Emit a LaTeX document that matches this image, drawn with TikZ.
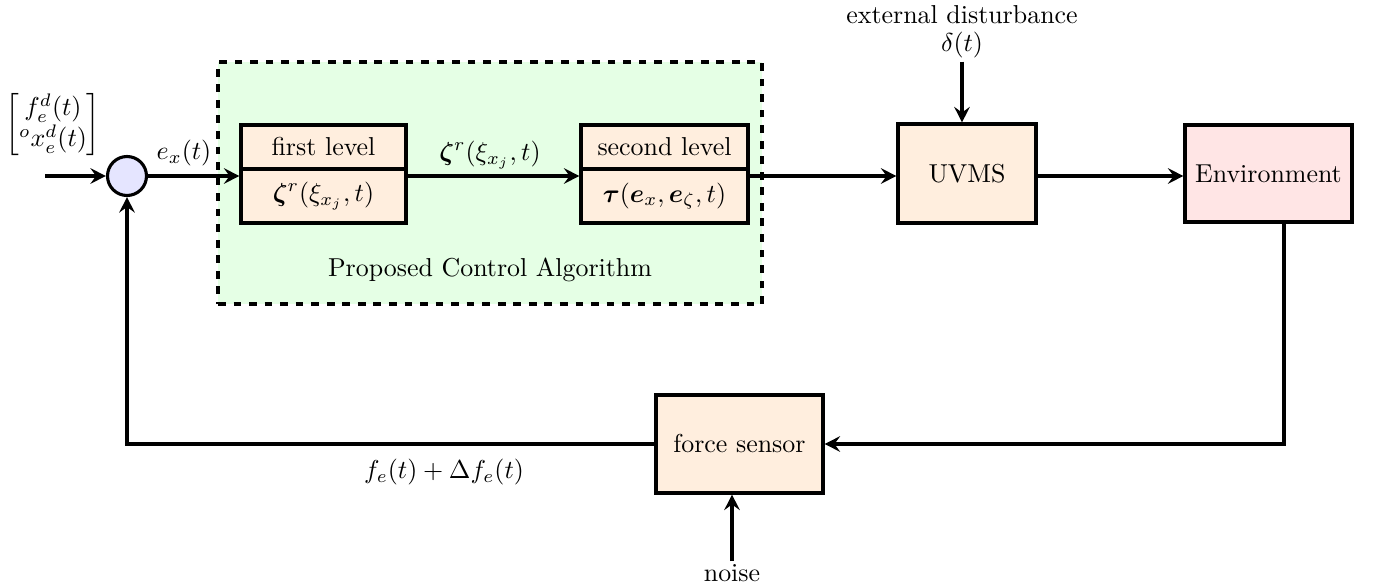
\documentclass[tikz,border=0pt]{standalone}
\usepackage{amsmath,bm}
\usetikzlibrary{calc,arrows.meta}
\begin{document}
\begin{tikzpicture}[x=0.386pt,y=-0.386pt,
  conn/.style={line width=1.2pt},
  arr/.style={conn,-{Stealth[length=6pt,width=6pt,inset=2.2pt]}},
  blk/.style={draw,line width=1.2pt,fill=orange!13,inner sep=0pt,align=center},
  lbl/.style={inner sep=1pt,align=center}]
\useasboundingbox (0,0) rectangle (1373,588);
% control algorithm region
\node[draw,dashed,line width=1.2pt,fill=green!10,minimum width={544*0.386pt},minimum height={242*0.386pt},inner sep=0pt] (ctrl) at (490,183) {};
\node[lbl] (pcalab) at (490,270) {Proposed Control Algorithm};
% summing junction
\node[draw,circle,line width=1.2pt,fill=blue!10,minimum size={39*0.386pt},inner sep=0pt] (sum) at (127,176) {};
\coordinate (in) at (45,176);
\node[lbl] (ref) at (53,125) {$\begin{bmatrix} f_e^d(t)\\ {}^o x_e^d(t)\end{bmatrix}$};
\node[lbl] (exlab) at (184,153) {$e_x(t)$};
% first level
\node[blk,minimum width={165*0.386pt},minimum height={44*0.386pt}] (fltop) at (323.5,147) {first level};
\node[blk,minimum width={165*0.386pt},minimum height={54*0.386pt}] (flbot) at (323.5,196) {$\bm{\zeta}^r(\xi_{x_j},t)$};
% second level
\node[blk,minimum width={167*0.386pt},minimum height={44*0.386pt}] (sltop) at (664.5,147) {second level};
\node[blk,minimum width={167*0.386pt},minimum height={54*0.386pt}] (slbot) at (664.5,196) {$\bm{\tau}(\bm{e}_x,\bm{e}_\zeta,t)$};
\node[lbl] (zlab) at (490,155) {$\bm{\zeta}^r(\xi_{x_j},t)$};
% UVMS and environment
\node[blk,minimum width={138*0.386pt},minimum height={99*0.386pt}] (uvms) at (967,173.5) {UVMS};
\node[lbl] (ext) at (962,32) {external disturbance\\[-1pt] $\delta(t)$};
\node[blk,fill=red!10,minimum width={167*0.386pt},minimum height={97*0.386pt}] (env) at (1268.5,173.5) {Environment};
% force sensor
\node[blk,minimum width={167*0.386pt},minimum height={98*0.386pt}] (fs) at (739.5,444) {force sensor};
\node[lbl] (noise) at (732,573) {noise};
\node[lbl] (felab) at (444,472) {$f_e(t)+\Delta f_e(t)$};
\coordinate (eo) at (1284,444);
% connectors
\draw[arr] (in) -- (sum.west);
\draw[arr] (sum.east) -- (flbot.west |- sum);
\draw[arr] (flbot.east |- sum) -- (slbot.west |- sum);
\draw[arr] (slbot.east |- sum) -- (uvms.west |- sum);
\draw[arr] (uvms.east |- sum) -- (env.west |- sum);
\draw[arr] (ext.south) -- (ext.south |- uvms.north);
\draw[arr] (env.south -| eo) -- (eo) -- (fs.east);
\draw[arr] (fs.west) -- (sum |- fs.west) -- (sum.south);
\draw[arr] (noise.north) -- (noise.north |- fs.south);
\end{tikzpicture}
\end{document}
